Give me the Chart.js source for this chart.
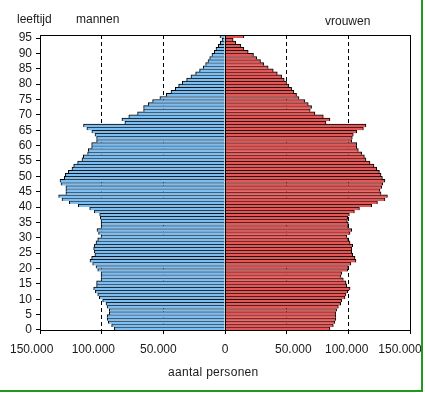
<!DOCTYPE html>
<html>
<head>
<meta charset="utf-8">
<script src="https://cdn.jsdelivr.net/npm/chart.js@4.4.0/dist/chart.umd.min.js"></script>
<style>
  html, body { margin: 0; padding: 0; background: #fff; }
  #wrap { position: relative; width: 425px; height: 393px; overflow: hidden; }
  #pyramid { position: absolute; left: 0; top: 0; }
  .lbl { position: absolute; font: 12px "Liberation Sans", Arial, sans-serif; color: #1a1a1a; white-space: nowrap; line-height: 14px; }
</style>
</head>
<body>
<div id="wrap">
  <canvas id="pyramid" width="425" height="393"></canvas>
  <div class="lbl" style="left:17px; top:12px">leeftijd</div>
  <div class="lbl" style="left:76px; top:12px">mannen</div>
  <div class="lbl" style="left:325px; top:14px">vrouwen</div>
  <div class="lbl" style="left:168px; top:365px; letter-spacing:0.3px">aantal personen</div>
</div>
<script>
// leeftijd (age 0 .. 95+)
const ages = [
  0, 1, 2, 3, 4, 5, 6, 7, 8, 9, 10, 11, 12, 13, 14, 15, 16, 17, 18, 19,
  20, 21, 22, 23, 24, 25, 26, 27, 28, 29, 30, 31, 32, 33, 34, 35, 36, 37, 38, 39,
  40, 41, 42, 43, 44, 45, 46, 47, 48, 49, 50, 51, 52, 53, 54, 55, 56, 57, 58, 59,
  60, 61, 62, 63, 64, 65, 66, 67, 68, 69, 70, 71, 72, 73, 74, 75, 76, 77, 78, 79,
  80, 81, 82, 83, 84, 85, 86, 87, 88, 89, 90, 91, 92, 93, 94, 95
];

// aantal mannen per leeftijd
const mannen = [
  89700, 91900, 94600, 95600, 95600, 93800, 93800, 95600, 96500, 99200,
  101900, 103200, 105100, 106500, 104100, 104100, 100500, 100500, 100500, 103200,
  104600, 107300, 109500, 108100, 105500, 105900, 106500, 105900, 104600, 103200,
  100500, 102500, 103800, 100500, 100500, 100500, 101100, 101600, 105900, 109700,
  118900, 126200, 132200, 134900, 129000, 129000, 129000, 133000, 133800, 130300,
  129500, 127100, 124100, 122700, 119500, 116000, 114900, 111400, 110800, 108100,
  108100, 104100, 104100, 105400, 108000, 112000, 114700, 81200, 83600, 78000,
  70900, 66000, 66000, 62200, 58700, 52800, 47600, 43800, 40300, 37600,
  34600, 31100, 27600, 23800, 20600, 17600, 15700, 13800, 12400, 10600,
  8700, 7300, 5400, 3800, 2400, 4100
];

// aantal vrouwen per leeftijd
const vrouwen = [
  85100, 87800, 89100, 89900, 89900, 89700, 90500, 91900, 93800, 94600,
  97300, 98100, 99500, 101400, 98700, 98100, 95900, 94000, 94600, 99500,
  100000, 102100, 106200, 105400, 103500, 102700, 102700, 103500, 101400, 100000,
  98700, 101400, 102700, 100000, 100000, 99200, 99500, 100800, 104900, 109000,
  118900, 123600, 129700, 131700, 126500, 125700, 127100, 127900, 129700, 127600,
  126500, 125200, 123000, 120800, 117600, 114300, 113000, 110800, 108100, 106800,
  106800, 102700, 103200, 104000, 106800, 112200, 114300, 81900, 85100, 79700,
  72900, 69100, 70200, 67500, 64800, 60000, 58000, 55900, 54000, 51800,
  49900, 48000, 45900, 42400, 39100, 35000, 31500, 28800, 25800, 23100,
  18800, 15300, 12900, 8800, 6600, 15300
];

// x-axis ticks and the dashed reference lines
const xTicks = [-150000, -100000, -50000, 0, 50000, 100000, 150000];
const dashedAt = [-100000, -50000, 50000, 100000];

// the original spreads its axis labels a little unevenly; nudge them with spaces
// (negative = shift left, positive = shift right, in spaces)
const labelNudge = { '-150000': -5, '-100000': -5, '-50000': -3, '0': 0, '50000': 4, '100000': -1, '150000': -6 };

const tickFont = { family: '"Liberation Sans", Arial, sans-serif', size: 12 };

function formatNl(v) {
  const txt = String(Math.abs(v)).replace(/\B(?=(\d{3})+(?!\d))/g, '.');
  const n = labelNudge[String(v)] || 0;
  const pad = '\u00a0'.repeat(Math.abs(n));
  return n < 0 ? txt + pad : pad + txt;
}

// frame around the plot, zero line and the green picture border
const framePlugin = {
  id: 'frame',
  afterDatasetsDraw(chart) {
    const { ctx, chartArea: a, scales } = chart;
    const x0 = Math.round(scales.x.getPixelForValue(0)) + 0.5;
    ctx.save();
    ctx.strokeStyle = '#000';
    ctx.lineWidth = 1;
    ctx.strokeRect(a.left + 0.5, a.top + 0.5, a.right - a.left, a.bottom - a.top);
    ctx.beginPath();
    ctx.moveTo(x0, a.top);
    ctx.lineTo(x0, a.bottom);
    ctx.stroke();
    ctx.restore();
  },
  afterDraw(chart) {
    const ctx = chart.ctx;
    ctx.save();
    ctx.fillStyle = '#fff';
    ctx.fillRect(423, 0, 2, 393);
    ctx.fillRect(0, 392, 425, 1);
    ctx.fillStyle = '#1f9a1f';
    ctx.fillRect(421, 0, 2, 392);
    ctx.fillRect(0, 390, 423, 2);
    ctx.restore();
  }
};

new Chart(document.getElementById('pyramid'), {
  type: 'bar',
  data: {
    labels: ages,
    datasets: [
      {
        label: 'mannen',
        data: mannen.map(v => -v),
        backgroundColor: '#7dbdf0',
        borderColor: '#000',
        borderWidth: { top: 1, left: 1, right: 0, bottom: 0 },
        borderSkipped: false,
        barPercentage: 1,
        categoryPercentage: 1,
        grouped: false
      },
      {
        label: 'vrouwen',
        data: vrouwen,
        backgroundColor: '#e45757',
        borderColor: '#000',
        borderWidth: { top: 1, left: 0, right: 1, bottom: 0 },
        borderSkipped: false,
        barPercentage: 1,
        categoryPercentage: 1,
        grouped: false
      }
    ]
  },
  options: {
    indexAxis: 'y',
    responsive: false,
    animation: false,
    events: [],
    layout: { padding: { top: 35, right: 15, bottom: 0, left: 0 } },
    plugins: {
      legend: { display: false },
      tooltip: { enabled: false }
    },
    scales: {
      x: {
        type: 'linear',
        min: -150000,
        max: 150000,
        afterBuildTicks: scale => {
          scale.ticks = xTicks.map(v => ({ value: v }));
        },
        afterFit: scale => {
          scale.height = 63;
          scale.paddingLeft = 0;
          scale.paddingRight = 0;
        },
        ticks: {
          autoSkip: false,
          maxRotation: 0,
          padding: 8,
          color: '#1a1a1a',
          font: tickFont,
          callback: v => formatNl(v)
        },
        grid: {
          color: c => (c.tick && dashedAt.includes(c.tick.value)) ? '#000' : 'rgba(0,0,0,0)',
          tickColor: '#000',
          tickLength: 4
        },
        border: { display: true, color: '#000', dash: [4, 3] }
      },
      y: {
        type: 'category',
        reverse: true,
        offset: true,
        afterFit: scale => {
          scale.width = 40;
          scale.paddingTop = 0;
          scale.paddingBottom = 0;
        },
        ticks: {
          autoSkip: false,
          padding: 4,
          labelOffset: 1.5,
          color: '#1a1a1a',
          font: tickFont,
          callback: (value, index) => (ages[index] % 5 === 0 ? String(ages[index]) : '')
        },
        grid: {
          offset: true,
          drawOnChartArea: false,
          tickLength: 4,
          tickColor: c => (c.index % 5 === 0 && c.index < ages.length) ? '#000' : 'rgba(0,0,0,0)'
        },
        border: { display: true, color: '#000' }
      }
    }
  },
  plugins: [framePlugin]
});
</script>
</body>
</html>
